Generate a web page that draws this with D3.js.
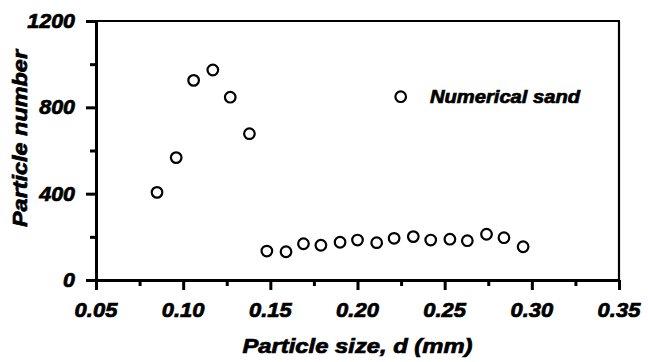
<!DOCTYPE html>
<html><head><meta charset="utf-8">
<script src="https://cdn.jsdelivr.net/npm/d3@7"></script>
<style>
html,body{margin:0;padding:0;background:#fff;}
text{font-family:"Liberation Sans",Arial,sans-serif;font-weight:bold;font-style:italic;fill:#000;stroke:#000;stroke-width:0.7px;}
</style></head>
<body><svg id="c" width="648" height="362"></svg>
<script>
const sizes = [0.085,0.096,0.106,0.117,0.127,0.138,0.148,0.159,0.169,0.179,0.190,0.200,0.211,0.221,0.232,0.242,0.253,0.263,0.274,0.284,0.295];
const counts = [406,567,925,973,847,678,134,131,168,161,175,185,173,193,201,185,189,182,212,196,154];
const xTicks = [0.05,0.10,0.15,0.20,0.25,0.30,0.35];
const xMinor = [0.075,0.125,0.175,0.225,0.275,0.325];
const yTicks = [0,400,800,1200];
const yMinor = [200,600,1000];
const seriesName = "Numerical sand";
const xTitle = "Particle size, d (mm)";
const yTitle = "Particle number";

const svg = d3.select("#c");
const L=96, R=619, T=21, B=280;
const x = d3.scaleLinear().domain([0.05,0.35]).range([L,R]);
const y = d3.scaleLinear().domain([0,1200]).range([B,T]);
const SX = 1.1;

// frame top/right
svg.append("line").attr("x1",L).attr("x2",R+1).attr("y1",T).attr("y2",T).attr("stroke","#000").attr("stroke-width",2.2);
svg.append("line").attr("x1",R).attr("x2",R).attr("y1",T).attr("y2",B).attr("stroke","#000").attr("stroke-width",2.2);

// axes
const gx = svg.append("g").attr("transform",`translate(0,${B})`);
gx.call(d3.axisBottom(x).tickValues(xTicks).tickSize(10).tickSizeOuter(0).tickFormat(""));
gx.append("g").call(d3.axisBottom(x).tickValues(xMinor).tickSize(6).tickFormat(""));
gx.selectAll("g g path.domain").remove();
gx.selectAll("path.domain").attr("stroke-width",3);
gx.selectAll("line").attr("stroke-width",3);

const gy = svg.append("g").attr("transform",`translate(${L},0)`);
gy.call(d3.axisLeft(y).tickValues(yTicks).tickSize(10).tickSizeOuter(0).tickFormat(""));
gy.append("g").call(d3.axisLeft(y).tickValues(yMinor).tickSize(6).tickFormat(""));
gy.selectAll("g g path.domain").remove();
gy.selectAll("path.domain").attr("stroke-width",3);
gy.selectAll("line").attr("stroke-width",3);

// tick labels
xTicks.forEach(v=>{
  svg.append("text").attr("transform",`translate(${x(v)},316.5) scale(${SX},1)`)
    .attr("text-anchor","middle").attr("font-size",20).text(d3.format(".2f")(v));
});
yTicks.forEach(v=>{
  svg.append("text").attr("transform",`translate(75,${y(v)+7}) scale(${SX},1)`)
    .attr("text-anchor","end").attr("font-size",19.5).text(v);
});

// titles
svg.append("text").attr("x",(L+R)/2).attr("y",353).attr("text-anchor","middle").attr("font-size",19.5)
  .attr("textLength",230).attr("lengthAdjust","spacingAndGlyphs").text(xTitle);
svg.append("text").attr("transform",`translate(27,138.5) rotate(-90)`)
  .attr("text-anchor","middle").attr("font-size",19.5)
  .attr("textLength",177).attr("lengthAdjust","spacingAndGlyphs").text(yTitle);

// points
svg.append("g").selectAll("circle").data(sizes).join("circle")
  .attr("cx",(d)=>x(d)).attr("cy",(d,i)=>y(counts[i])).attr("r",5.3)
  .attr("fill","none").attr("stroke","#000").attr("stroke-width",2.2);

// legend
svg.append("circle").attr("cx",400.7).attr("cy",96.7).attr("r",5.3).attr("fill","none").attr("stroke","#000").attr("stroke-width",2.2);
svg.append("text").attr("x",430).attr("y",102.5).attr("font-size",18)
  .attr("textLength",150).attr("lengthAdjust","spacingAndGlyphs").text(seriesName);
</script></body></html>
